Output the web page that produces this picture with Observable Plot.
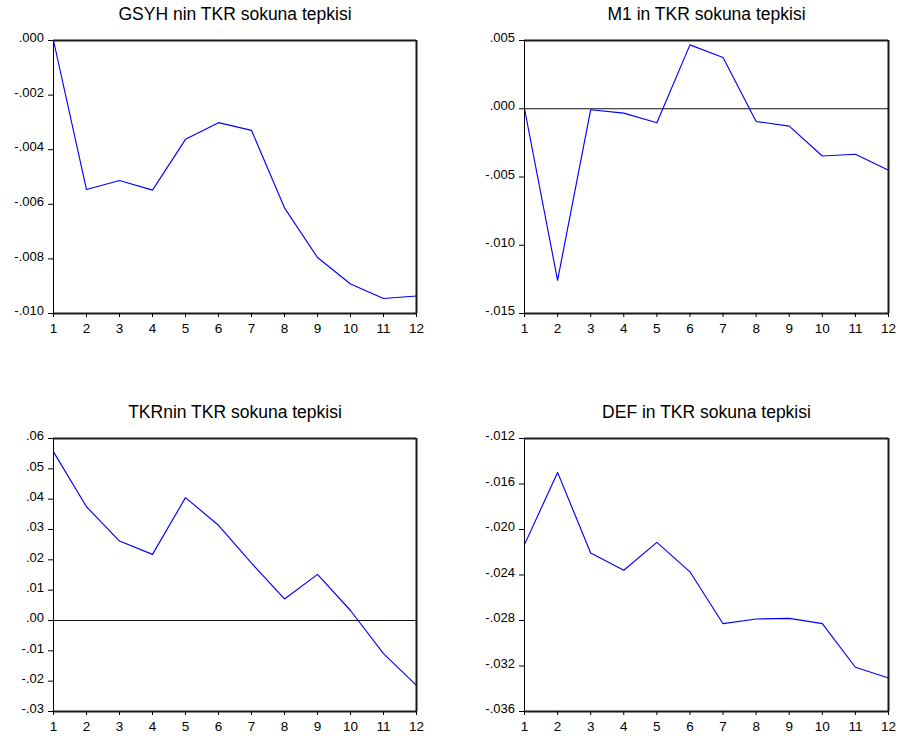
<!DOCTYPE html>
<html><head><meta charset="utf-8">
<script src="https://cdn.jsdelivr.net/npm/d3@7"></script>
<script src="https://cdn.jsdelivr.net/npm/@observablehq/plot@0.6"></script>
<style>
html,body{margin:0;padding:0;background:#fff;}
#chart{position:relative;width:901px;height:742px;background:#fff;}
#chart svg{position:absolute;}
</style></head><body><div id="chart"></div>
<script>
const periods = [1,2,3,4,5,6,7,8,9,10,11,12];

const titles = ["GSYH nin TKR sokuna tepkisi", "M1 in TKR sokuna tepkisi", "TKRnin TKR sokuna tepkisi", "DEF in TKR sokuna tepkisi"];

const gsyh = [0, -0.00546, -0.00513, -0.00548, -0.00362, -0.00301, -0.00329, -0.00613, -0.00795, -0.00892, -0.00945, -0.00936];
const m1   = [0, -0.01257, -0.00007, -0.00032, -0.00103, 0.00468, 0.00375, -0.00093, -0.00127, -0.00346, -0.00333, -0.00451];
const tkr  = [0.0556, 0.0375, 0.0262, 0.0218, 0.0405, 0.0314, 0.0189, 0.0071, 0.0152, 0.0033, -0.0109, -0.0214];
const def  = [-0.02133, -0.01498, -0.02207, -0.02358, -0.02113, -0.02372, -0.02828, -0.02787, -0.02781, -0.02828, -0.03211, -0.03305];

const yTicks1 = [0, -0.002, -0.004, -0.006, -0.008, -0.010];
const yLabels1 = [".000", "-.002", "-.004", "-.006", "-.008", "-.010"];
const yTicks2 = [0.005, 0, -0.005, -0.010, -0.015];
const yLabels2 = [".005", ".000", "-.005", "-.010", "-.015"];
const yTicks3 = [0.06, 0.05, 0.04, 0.03, 0.02, 0.01, 0, -0.01, -0.02, -0.03];
const yLabels3 = [".06", ".05", ".04", ".03", ".02", ".01", ".00", "-.01", "-.02", "-.03"];
const yTicks4 = [-0.012, -0.016, -0.020, -0.024, -0.028, -0.032, -0.036];
const yLabels4 = ["-.012", "-.016", "-.020", "-.024", "-.028", "-.032", "-.036"];

const panels = [
  {title: titles[0], values: gsyh, ticks: yTicks1, labels: yLabels1, zero: false, left: 0,   top: 0,   w: 450, ml: 53, mr: 34},
  {title: titles[1], values: m1,   ticks: yTicks2, labels: yLabels2, zero: true,  left: 450, top: 0,   w: 451, ml: 74, mr: 13},
  {title: titles[2], values: tkr,  ticks: yTicks3, labels: yLabels3, zero: true,  left: 0,   top: 398, w: 450, ml: 53, mr: 34},
  {title: titles[3], values: def,  ticks: yTicks4, labels: yLabels4, zero: false, left: 450, top: 398, w: 451, ml: 74, mr: 13}
];

const chart = document.getElementById("chart");
const FONT = "'Liberation Sans', Arial, Helvetica, sans-serif";

for (const p of panels) {
  const rows = periods.map((t, i) => ({t, v: p.values[i]}));
  const yMin = d3.min(p.ticks), yMax = d3.max(p.ticks);
  const yRows = p.ticks.map((d, i) => ({v: d, label: p.labels[i]}));
  const svg = Plot.plot({
    width: p.w,
    height: 340,
    marginLeft: p.ml,
    marginRight: p.mr,
    marginTop: 40,
    marginBottom: 27,
    style: {fontFamily: FONT, fontSize: "13px", color: "black", background: "white", overflow: "visible"},
    x: {domain: [1, 12], axis: null, label: null},
    y: {domain: [yMin, yMax], axis: null, label: null},
    marks: [
      p.zero ? Plot.ruleY([0], {stroke: "#111", strokeWidth: 1}) : null,
      Plot.line(rows, {x: "t", y: "v", stroke: "#0000ff", strokeWidth: 1.15}),
      Plot.ruleX([1], {stroke: "black", strokeWidth: 1}),
      Plot.ruleX([12], {stroke: "#1a1a1a", strokeWidth: 2}),
      Plot.ruleY([yMin, yMax], {stroke: "#1a1a1a", strokeWidth: 2}),
      Plot.axisX(periods, {anchor: "bottom", tickSize: 4, label: null, fill: "none", stroke: "black"}),
      Plot.axisY(p.ticks, {anchor: "left", tickSize: 5, label: null, fill: "none", stroke: "black"}),
      Plot.text(periods, {x: d => d, frameAnchor: "bottom", lineAnchor: "top", dy: 10, fontSize: 13.5, fill: "black", text: d => String(d)}),
      Plot.text(yRows, {y: "v", frameAnchor: "left", textAnchor: "end", dx: -9.5, dy: -2.5, fontSize: 13, fill: "black", text: "label"}),
      Plot.text([p.title], {frameAnchor: "top", lineAnchor: "top", dy: -33.3, fontSize: 17.5, fill: "black", text: d => d})
    ]
  });
  svg.style.left = p.left + "px";
  svg.style.top = p.top + "px";
  chart.appendChild(svg);
}
</script>
</body></html>
